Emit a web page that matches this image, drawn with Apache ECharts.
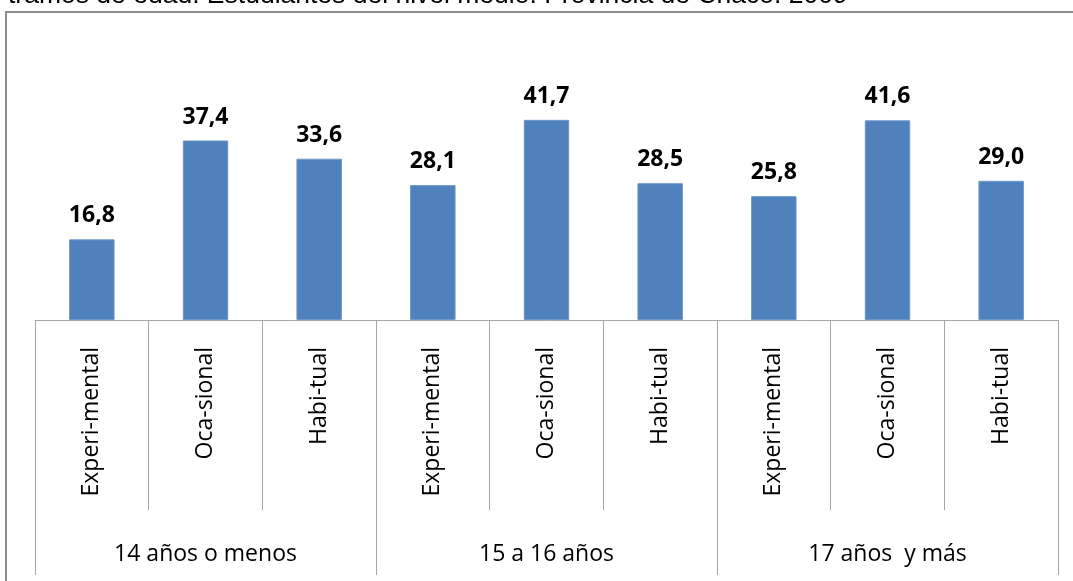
<!DOCTYPE html>
<html>
<head>
<meta charset="utf-8">
<script src="https://cdn.jsdelivr.net/npm/echarts@6/dist/echarts.min.js"></script>
<style>
  html, body { margin: 0; padding: 0; background: #fff; }
  #chart { width: 1073px; height: 581px; }
</style>
</head>
<body>
<div id="chart"></div>
<script>
// tipos de consumo (eje inferior) y tramos de edad (eje de grupos)
const tipos = ['Experi-mental', 'Oca-sional', 'Habi-tual',
               'Experi-mental', 'Oca-sional', 'Habi-tual',
               'Experi-mental', 'Oca-sional', 'Habi-tual'];
const tramos = ['14 años o menos', '15 a 16 años', '17 años  y más'];
// porcentajes
const valores = [16.8, 37.4, 33.6, 28.1, 41.7, 28.5, 25.8, 41.6, 29.0];

const myChart = echarts.init(document.getElementById('chart'));
const gris = '#a6a6a6';
const fuente = '"Open Sans", "Noto Sans", sans-serif';

const option = {
  animation: false,
  title: {
    text: 'tramos de edad. Estudiantes del nivel medio. Provincia de Chaco. 2009',
    left: 3,
    top: -23,
    textStyle: {
      fontFamily: '"Liberation Sans", Arial, sans-serif',
      fontWeight: 'normal',
      fontSize: 26.5,
      color: '#000'
    }
  },
  // marco del gráfico
  graphic: [{
    type: 'rect',
    shape: { x: 6, y: 12, width: 1200, height: 700 },
    style: { fill: 'none', stroke: '#8c8c8c', lineWidth: 2 },
    silent: true
  }],
  grid: { left: 35, right: 15, top: 80, bottom: 261 },
  xAxis: [
    {
      type: 'category',
      data: tipos,
      position: 'bottom',
      axisLine: { show: true, lineStyle: { color: gris, width: 1 } },
      axisTick: { show: true, interval: 0, length: 190, lineStyle: { color: gris, width: 1 } },
      axisLabel: {
        interval: 0,
        rotate: 90,
        margin: 27,
        fontFamily: fuente,
        fontSize: 23,
        color: '#000'
      }
    },
    {
      type: 'category',
      data: tramos,
      position: 'bottom',
      axisLine: { show: false },
      axisTick: { show: true, interval: 0, length: 255, lineStyle: { color: gris, width: 1 } },
      axisLabel: {
        interval: 0,
        margin: 223,
        fontFamily: fuente,
        fontSize: 23,
        color: '#000'
      }
    }
  ],
  yAxis: {
    type: 'value',
    min: 0,
    max: 50,
    show: false,
    splitLine: { show: false }
  },
  series: [{
    type: 'bar',
    data: valores,
    barWidth: '40%',
    itemStyle: { color: '#4f81bd', borderColor: '#6f97c9', borderWidth: 1 },
    label: {
      show: true,
      position: 'top',
      distance: 12,
      fontFamily: fuente,
      fontWeight: 'bold',
      fontSize: 23,
      color: '#000',
      formatter: (p) => p.value.toFixed(1).replace('.', ',')
    }
  }]
};

myChart.setOption(option);
</script>
</body>
</html>
